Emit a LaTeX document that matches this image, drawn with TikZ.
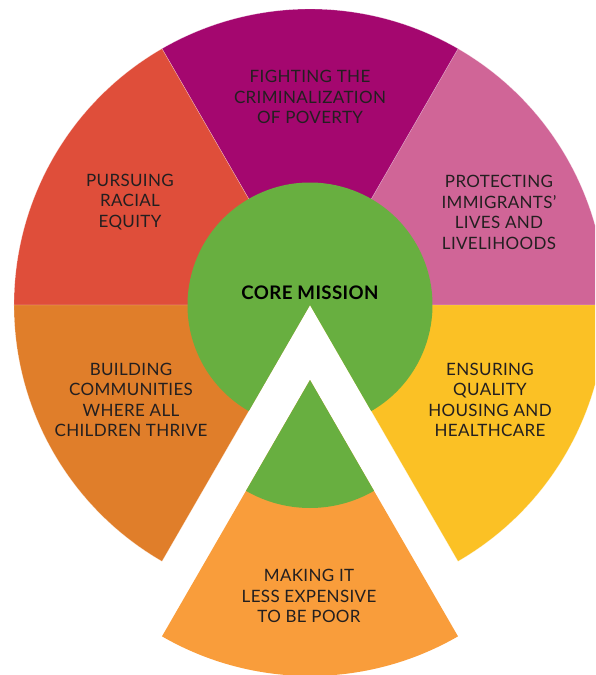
\documentclass[tikz,border=0pt]{standalone}
\usepackage{fontspec}
\setmainfont{Lato}[LetterSpace=2]
\definecolor{segPurple}{HTML}{A4076F}
\definecolor{segRed}{HTML}{DF4E3A}
\definecolor{segPink}{HTML}{D06597}
\definecolor{segOrange}{HTML}{E07E2A}
\definecolor{segYellow}{HTML}{FBC125}
\definecolor{segPeach}{HTML}{F99D3B}
\definecolor{coreGreen}{HTML}{68AF40}
\definecolor{inkDark}{HTML}{231F20}
\begin{document}
\begin{tikzpicture}[x=1pt,y=1pt,
  seg/.style={draw=white, draw opacity=0.45, line width=0.4pt},
  caption/.style={align=center, font=\fontsize{17}{20.5}\selectfont, text=inkDark, inner sep=0pt},
  corelabel/.style={align=center, font=\bfseries\fontsize{18.7}{20.5}\selectfont, text=black, inner sep=0pt}]
\useasboundingbox (-310,-370) rectangle (285,305);
\clip (-310,-370) rectangle (285,305);

% outer ring of five goal segments around the centre
\fill[segPink,seg]   (0,0) -- (0:296)   arc[start angle=0,   end angle=60,  radius=296] -- cycle;
\fill[segPurple,seg] (0,0) -- (60:296)  arc[start angle=60,  end angle=120, radius=296] -- cycle;
\fill[segRed,seg]    (0,0) -- (120:296) arc[start angle=120, end angle=180, radius=296] -- cycle;
\fill[segOrange,seg] (0,0) -- (180:296) arc[start angle=180, end angle=240, radius=296] -- cycle;
\fill[segYellow,seg] (0,0) -- (300:296) arc[start angle=300, end angle=360, radius=296] -- cycle;

% core disc with the lower wedge cut out
\fill[coreGreen] (0,0) -- (300:122.5) arc[start angle=-60, end angle=240, radius=122.5] -- cycle;

% detached lower segment
\coordinate (tip) at (0,-75);
\fill[segPeach] (tip) -- ++(240:296) arc[start angle=240, end angle=300, radius=296] -- cycle;
\fill[coreGreen] (tip) -- ++(240:128) arc[start angle=240, end angle=300, radius=128] -- cycle;

% labels
\node[corelabel] (core) at (0,12) {CORE MISSION};
\node[caption] (crim) at (0,208) {FIGHTING THE\\CRIMINALIZATION\\OF POVERTY};
\node[caption] (race) at (-180,103) {PURSUING\\RACIAL\\EQUITY};
\node[caption] (immi) at (189,92.5) {PROTECTING\\IMMIGRANTS’\\LIVES AND\\LIVELIHOODS};
\node[caption] (kids) at (-179,-95) {BUILDING\\COMMUNITIES\\WHERE ALL\\CHILDREN THRIVE};
\node[caption] (home) at (180,-95) {ENSURING\\QUALITY\\HOUSING AND\\HEALTHCARE};
\node[caption] (cost) at (-1,-291) {MAKING IT\\LESS EXPENSIVE\\TO BE POOR};
\end{tikzpicture}
\end{document}
